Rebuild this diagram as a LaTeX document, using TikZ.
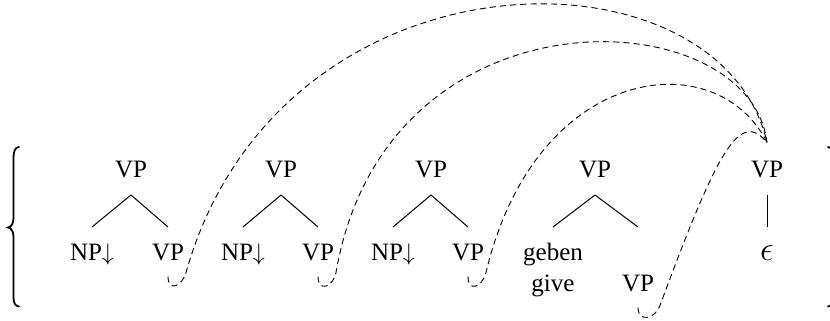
\documentclass[tikz,border=0pt]{standalone}
\usepackage{fontspec}
\setmainfont{Liberation Serif}
\tikzset{
  lab/.style={inner sep=0pt, outer xsep=0pt, anchor=base,
    font=\fontsize{12.5}{15}\selectfont, text height=8.25pt, text depth=0pt},
  rootn/.style={lab, outer ysep=9pt},
  leafn/.style={lab, outer ysep=8.25pt},
  branch/.style={line width=0.5pt},
  dep/.style={line width=0.45pt, dash pattern=on 3.1pt off 2pt},
  bracep/.style={line width=0.9pt, line cap=round}
}
\begin{document}
\begin{tikzpicture}[x=0.5pt,y=-0.5pt]
\useasboundingbox (0,0) rectangle (830,321);
% trees
\node[rootn] (r1) at (131,177) {VP};
\node[leafn] (n1) at (92,260) {NP$\downarrow$};
\node[leafn] (v1) at (168,260) {VP};
\node[rootn] (r2) at (281,177) {VP};
\node[leafn] (n2) at (243,260) {NP$\downarrow$};
\node[leafn] (v2) at (318,260) {VP};
\node[rootn] (r3) at (431,177) {VP};
\node[leafn] (n3) at (393,260) {NP$\downarrow$};
\node[leafn] (v3) at (468,260) {VP};
\node[rootn] (r4) at (595,177) {VP};
\node[leafn] (g1) at (553,260) {geben};
\node[leafn] (g2) at (553,291) {give};
\node[leafn, text height=23.75pt] (v4) at (638,291) {VP};
\node[rootn] (r5) at (767,177) {VP};
\node[leafn, font=\fontsize{17}{17}\selectfont] (e5) at (767,260) {$\epsilon$};
\foreach \r/\a/\b in {r1/n1/v1, r2/n2/v2, r3/n3/v3, r4/g1/v4}{
  \draw[branch] (\r.south) -- (\a.north);
  \draw[branch] (\r.south) -- (\b.north);
}
\draw[branch] (r5.south) -- (e5.north);
% turning points of the dashed links
\path (v1.south) ++(18,-4) coordinate (m1);
\path (v2.south) ++(18,-4) coordinate (m2);
\path (v3.south) ++(18,-4) coordinate (m3);
\path (v4.south) ++(22,-2) coordinate (m4);
\draw[dep] (v1.south) .. controls +(0,16) and +(-4,14) .. (m1)
  .. controls +(94,-332) and +(-47,-203) .. (r5.north);
\draw[dep] (v2.south) .. controls +(0,16) and +(-3,15) .. (m2)
  .. controls +(50,-292) and +(-17,-143) .. (r5.north);
\draw[dep] (v3.south) .. controls +(0,16) and +(-4,15) .. (m3)
  .. controls +(50,-210) and +(-50,-100) .. (r5.north);
\draw[dep] (v4.south) .. controls +(0,15) and +(-5,14) .. (m4)
  .. controls +(58,-157) and +(-27,-33) .. (r5.north);
% braces
\draw[bracep] (19,147) .. controls (15,147.5) and (13.5,151) .. (13.5,158)
  -- (13.5,218) .. controls (13.5,224) and (11,227) .. (8,227.5)
  .. controls (11,228) and (13.5,231) .. (13.5,237)
  -- (13.5,297) .. controls (13.5,303) and (15,306) .. (19,306.5);
\draw[bracep] (828,147) .. controls (832,147.5) and (833.5,151) .. (833.5,158)
  -- (833.5,218) .. controls (833.5,224) and (836,227) .. (839,227.5)
  .. controls (836,228) and (833.5,231) .. (833.5,237)
  -- (833.5,297) .. controls (833.5,303) and (832,306) .. (828,306.5);
\end{tikzpicture}
\end{document}
